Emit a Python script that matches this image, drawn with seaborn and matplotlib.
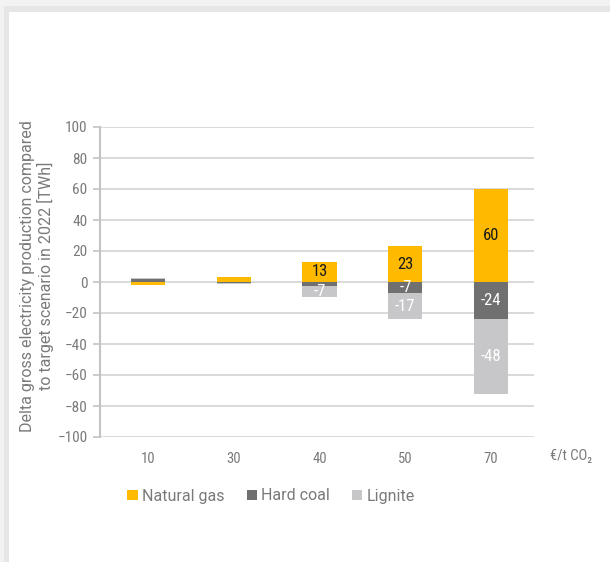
import numpy as np
import pandas as pd
import matplotlib
matplotlib.use("Agg")
import matplotlib.pyplot as plt
from matplotlib.patches import Rectangle, Patch
from matplotlib import font_manager
import seaborn as sns

# CO2 price scenarios (€/t CO2) and change in gross generation (TWh)
prices = ["10", "30", "40", "50", "70"]
natural_gas = [-2, 3, 13, 23, 60]
hard_coal = [2, -0.5, -2.5, -7, -24]
lignite = [0.5, -0.5, -7, -17, -48]

series_names = ["Natural gas", "Hard coal", "Lignite"]
series_colors = ["#FFBA00", "#707070", "#C7C7C9"]
label_colors = ["#1a1a1a", "#ffffff", "#ffffff"]
# which segments carry a value label
labelled = {
    "Natural gas": ["40", "50", "70"],
    "Hard coal": ["50", "70"],
    "Lignite": ["40", "50", "70"],
}

sns.set_theme(style="white")
avail = {f.name for f in font_manager.fontManager.ttflist}
fam = [f for f in ["Roboto", "DejaVu Sans"] if f in avail]
cond = [f for f in ["Roboto Condensed", "Roboto", "DejaVu Sans"] if f in avail]
plt.rcParams["font.family"] = fam + ["DejaVu Sans"]

TXT = "#7a7a7a"
GRID = "#d3d3d3"

fig = plt.figure(figsize=(6.10, 5.62), dpi=100)
W, H = 610, 562
fig.patch.set_facecolor("#f2f2f2")
fig.patches.append(Rectangle((4 / W, 0), 1, 1 - 6 / H, transform=fig.transFigure,
                             facecolor="#e6e6e6", edgecolor="none", zorder=-3))
fig.patches.append(Rectangle((9 / W, 0), 1, 1 - 12 / H, transform=fig.transFigure,
                             facecolor="white", edgecolor="none", zorder=-2))

ax = fig.add_axes([100 / W, 1 - 437 / H, (534 - 100) / W, (437 - 127) / H])
ax.set_facecolor("none")

# stacked positive / negative cumulative ends per series
vals = np.array([natural_gas, hard_coal, lignite], dtype=float)
pos = np.cumsum(np.clip(vals, 0, None), axis=0)
neg = np.cumsum(np.clip(vals, None, 0), axis=0)

width = 0.40
# draw outermost layer first so inner layers overdraw it
for i in reversed(range(3)):
    for ends in (pos[i], neg[i]):
        df = pd.DataFrame({"price": prices, "value": ends})
        sns.barplot(data=df, x="price", y="value", order=prices, color=series_colors[i],
                    saturation=1, width=width, ax=ax, zorder=3, linewidth=0)

# value labels at segment centers
for i, name in enumerate(series_names):
    for j, p in enumerate(prices):
        if p not in labelled[name]:
            continue
        v = vals[i, j]
        if v >= 0:
            lo, hi = pos[i, j] - v, pos[i, j]
        else:
            lo, hi = neg[i, j], neg[i, j] - v
        ax.text(j, (lo + hi) / 2, f"{v:g}", ha="center", va="center",
                fontsize=12, color=label_colors[i], zorder=5, family=cond)

ax.set_ylim(-100, 100)
ax.set_xlim(-0.56, len(prices) - 0.5)
ax.set_yticks(np.arange(-100, 101, 20))
ax.yaxis.grid(True, color=GRID, linewidth=1.2, zorder=0)
ax.set_axisbelow(True)
for s in ["top", "right", "bottom"]:
    ax.spines[s].set_visible(False)
ax.spines["left"].set_color("#c4c4c4")
ax.spines["left"].set_linewidth(1.5)
ax.tick_params(axis="y", length=5, width=1.2, color="#c4c4c4", labelsize=11,
               labelcolor=TXT, pad=4, left=True)
ax.tick_params(axis="x", length=0, labelsize=10.5, labelcolor=TXT, pad=11)
for lab in ax.get_yticklabels() + ax.get_xticklabels():
    lab.set_family(cond)
ax.set_xlabel("")
ax.set_ylabel("")

fig.text(37 / W, 1 - 276 / H,
         "Delta gross electricity production compared\nto target scenario in 2022 [TWh]",
         rotation=90, ha="center", va="center", multialignment="center",
         fontsize=11.5, color=TXT, linespacing=1.15)

fig.text(550 / W, 1 - 456 / H, "€/t CO₂", fontsize=10.5, color=TXT, ha="left", va="center",
         family=cond + ["DejaVu Sans"])

handles = [Patch(facecolor=c, edgecolor="none") for c in series_colors]
fig.legend(handles, series_names, loc="center", bbox_to_anchor=(271 / W, 1 - 496 / H),
           ncol=3, frameon=False, fontsize=11.5, labelcolor=TXT, handlelength=0.65,
           handleheight=0.65, handletextpad=0.25, columnspacing=1.4)

fig.savefig("out.png", dpi=100)
